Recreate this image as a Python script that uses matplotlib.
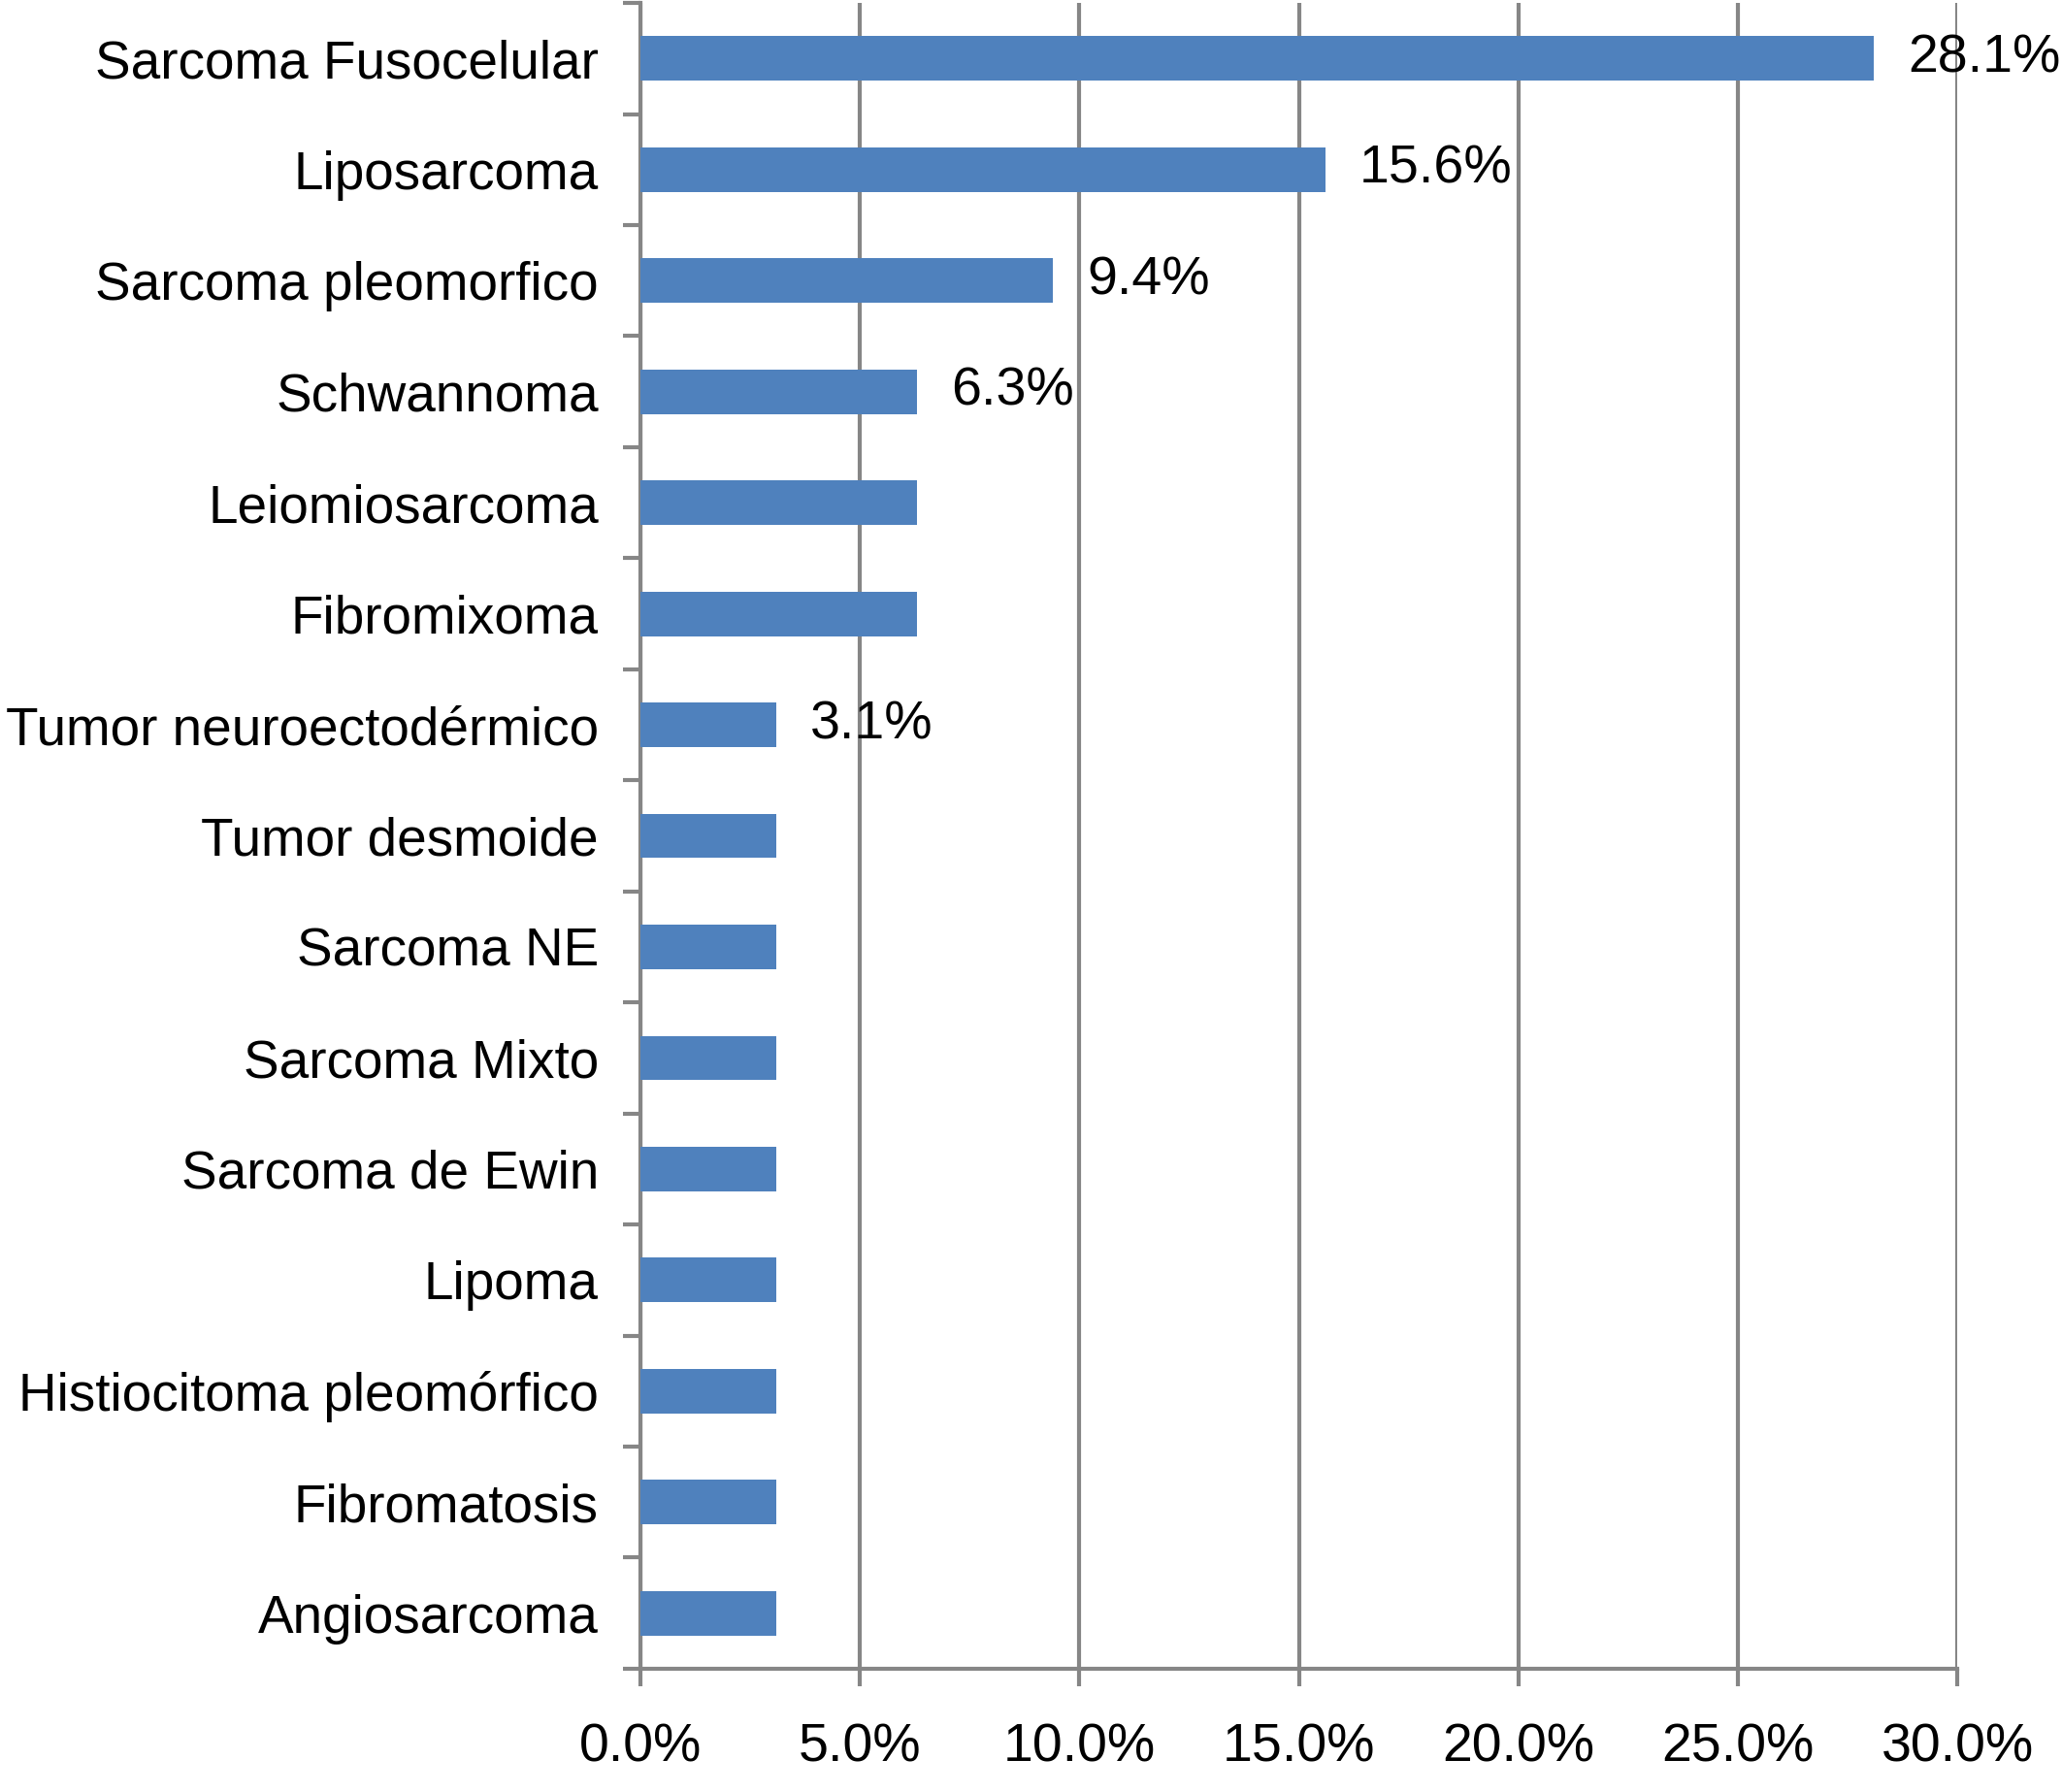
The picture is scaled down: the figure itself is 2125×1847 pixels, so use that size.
import matplotlib.pyplot as plt
from matplotlib.ticker import FuncFormatter, FixedLocator

tipos = ["Sarcoma Fusocelular", "Liposarcoma", "Sarcoma pleomorfico", "Schwannoma",
         "Leiomiosarcoma", "Fibromixoma", "Tumor neuroectodérmico", "Tumor desmoide",
         "Sarcoma NE", "Sarcoma Mixto", "Sarcoma de Ewin", "Lipoma",
         "Histiocitoma pleomórfico", "Fibromatosis", "Angiosarcoma"]
porcentajes = [28.1, 15.6, 9.4, 6.3, 6.3, 6.3, 3.1, 3.1, 3.1, 3.1, 3.1, 3.1, 3.1, 3.1, 3.1]
etiquetas = ["28.1%", "15.6%", "9.4%", "6.3%", "", "", "3.1%", "", "", "", "", "", "", "", ""]

plt.rcParams["font.family"] = ["Liberation Sans", "DejaVu Sans"]
gris = "#868686"

fig = plt.figure(figsize=(21.25, 18.47), dpi=100)
ax = fig.add_axes([0.3106, 0.0688, 0.6386, 0.9295])

pos = list(range(len(tipos)))
ax.barh(pos, porcentajes, height=0.4, color="#4F81BD", zorder=3)

for y, v, t in zip(pos, porcentajes, etiquetas):
    if t:
        ax.annotate(t, (v, y), xytext=(25, 0), textcoords="offset points",
                    va="center", ha="left", fontsize=40, zorder=4)

ax.set_xlim(0, 30)
ax.set_ylim(len(tipos) - 0.5, -0.5)
ax.set_xticks([0, 5, 10, 15, 20, 25, 30])
ax.xaxis.set_major_formatter(FuncFormatter(lambda x, p: f"{x:.1f}%"))
ax.grid(axis="x", color=gris, linewidth=3, zorder=1)

ax.set_yticks(pos)
ax.set_yticklabels(tipos)
ax.yaxis.set_minor_locator(FixedLocator([i - 0.5 for i in range(len(tipos) + 1)]))
ax.tick_params(axis="y", which="major", length=0, pad=31, labelsize=39.5)
ax.tick_params(axis="y", which="minor", length=13, width=3, color=gris, direction="out")
ax.tick_params(axis="x", length=13, width=3, color=gris, direction="out", pad=27, labelsize=40)

for s in ["top", "right"]:
    ax.spines[s].set_visible(False)
for s in ["left", "bottom"]:
    ax.spines[s].set_color(gris)
    ax.spines[s].set_linewidth(3)

fig.savefig("out.png", dpi=100)
plt.close()
